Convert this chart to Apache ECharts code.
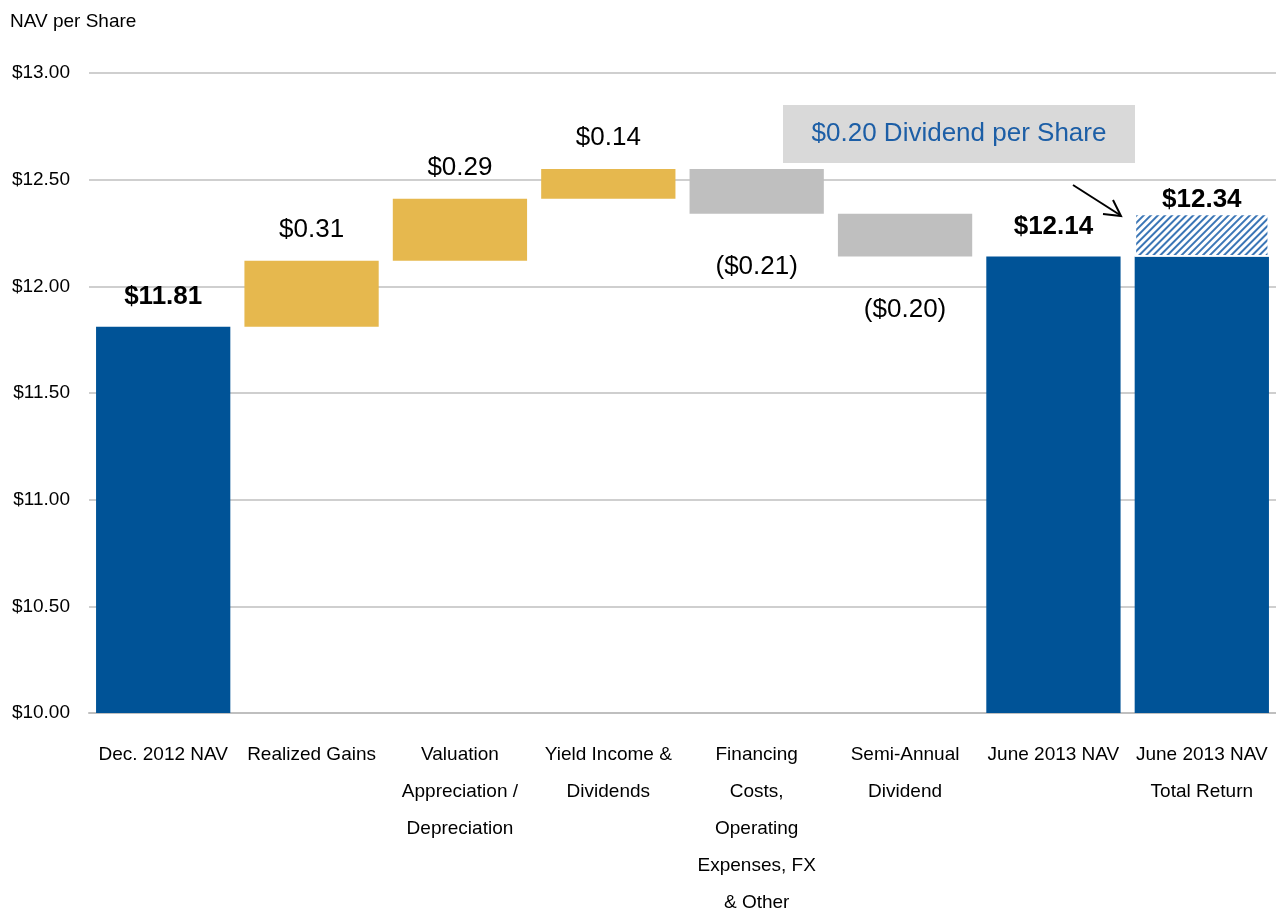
<!DOCTYPE html>
<html>
<head>
<meta charset="utf-8">
<script src="https://cdn.jsdelivr.net/npm/echarts@6/dist/echarts.min.js"></script>
<style>
  html, body { margin: 0; padding: 0; background: #fff; }
  #chart { width: 1276px; height: 911px; }
</style>
</head>
<body>
<div id="chart"></div>
<script>
var categories = [
    'Dec. 2012 NAV',
    'Realized Gains',
    'Valuation\nAppreciation /\nDepreciation',
    'Yield Income &\nDividends',
    'Financing\nCosts,\nOperating\nExpenses, FX\n& Other',
    'Semi-Annual\nDividend',
    'June 2013 NAV',
    'June 2013 NAV\nTotal Return'
];
var startNav = 11.81;
var changes = [0.31, 0.29, 0.14, -0.21, -0.20];
var endNav = 12.14;
var dividendAddBack = 0.20;

// build waterfall pieces
var base = ['-'], gain = ['-'], loss = ['-'], nav = [startNav], hatch = ['-'];
var running = startNav;
changes.forEach(function (c) {
    var next = Math.round((running + c) * 100) / 100;
    base.push(Math.min(running, next));
    gain.push(c > 0 ? c : '-');
    loss.push(c < 0 ? -c : '-');
    nav.push('-');
    hatch.push('-');
    running = next;
});
base.push('-', '-');
gain.push('-', '-');
loss.push('-', '-');
nav.push(endNav, endNav);
hatch.push('-', dividendAddBack);

var money = function (v) { return '$' + v.toFixed(2); };
var font = 'Liberation Sans, Arial, sans-serif';

var chart = echarts.init(document.getElementById('chart'));
var option = {
    animation: false,
    grid: { left: 89, right: 0, top: 73, bottom: 198, outerBoundsMode: 'none' },
    xAxis: {
        type: 'category',
        data: categories,
        axisTick: { show: false },
        axisLine: { lineStyle: { color: '#bfbfbf', width: 2 } },
        axisLabel: {
            interval: 0,
            color: '#000',
            fontFamily: font,
            fontSize: 19,
            lineHeight: 37,
            margin: 23,
            verticalAlign: 'top'
        }
    },
    yAxis: {
        type: 'value',
        min: 10,
        max: 13,
        interval: 0.5,
        name: 'NAV per Share',
        nameLocation: 'end',
        nameGap: 42,
        nameTextStyle: { color: '#000', fontFamily: font, fontSize: 19, align: 'left', padding: [0, 0, 0, -79] },
        axisLine: { show: false },
        axisTick: { show: false },
        splitLine: { lineStyle: { color: '#bfbfbf', width: 1.5 } },
        axisLabel: {
            color: '#000',
            fontFamily: font,
            fontSize: 19,
            margin: 19,
            formatter: function (v) { return money(v); }
        }
    },
    series: [
        {
            name: 'base', type: 'bar', stack: 'w', barWidth: '90.5%',
            data: base,
            itemStyle: { color: 'transparent' },
            silent: true
        },
        {
            name: 'gain', type: 'bar', stack: 'w',
            data: gain,
            itemStyle: { color: '#e6b84e' },
            label: {
                show: true, position: 'top', distance: 18,
                color: '#000', fontFamily: font, fontSize: 26,
                formatter: function (p) { return money(p.value); }
            }
        },
        {
            name: 'loss', type: 'bar', stack: 'w',
            data: loss,
            itemStyle: { color: '#bfbfbf' },
            label: {
                show: true, position: 'bottom', distance: 40,
                color: '#000', fontFamily: font, fontSize: 26,
                formatter: function (p) { return '(' + money(p.value) + ')'; }
            }
        },
        {
            name: 'nav', type: 'bar', stack: 'w',
            data: nav.map(function (v, i) {
                return { value: v, label: { show: i !== nav.length - 1 } };
            }),
            itemStyle: { color: '#005397' },
            label: {
                show: true, position: 'top', distance: 17,
                color: '#000', fontFamily: font, fontSize: 26, fontWeight: 'bold',
                formatter: function (p) { return money(p.value); }
            }
        },
        {
            name: 'hatch', type: 'bar', stack: 'w',
            data: hatch,
            itemStyle: {
                color: '#ffffff',
                borderColor: '#ffffff',
                borderWidth: 1.5,
                decal: {
                    symbol: 'rect',
                    symbolSize: 1,
                    dashArrayX: [1, 0],
                    dashArrayY: [2, 3],
                    rotation: -Math.PI / 4,
                    color: '#3b76b6'
                }
            },
            label: {
                show: true, position: 'top', distance: 1,
                color: '#000', fontFamily: font, fontSize: 26, fontWeight: 'bold',
                formatter: function () { return money(endNav + dividendAddBack); }
            }
        }
    ],
    graphic: [
        {
            type: 'rect',
            shape: { x: 783, y: 105, width: 352, height: 58 },
            style: { fill: '#d9d9d9' },
            silent: true
        },
        {
            type: 'text',
            x: 959, y: 134,
            style: {
                text: '$0.20 Dividend per Share',
                fill: '#1c5ea6', fontFamily: font, fontSize: 26,
                align: 'center', verticalAlign: 'middle'
            },
            silent: true
        },
        {
            type: 'line',
            shape: { x1: 1073, y1: 185, x2: 1120, y2: 215 },
            style: { stroke: '#000', lineWidth: 2 },
            silent: true
        },
        {
            type: 'polyline',
            shape: { points: [[1103, 214], [1121, 216], [1113, 200]] },
            style: { stroke: '#000', lineWidth: 2, fill: null },
            silent: true
        }
    ]
};
chart.setOption(option);
</script>
</body>
</html>
